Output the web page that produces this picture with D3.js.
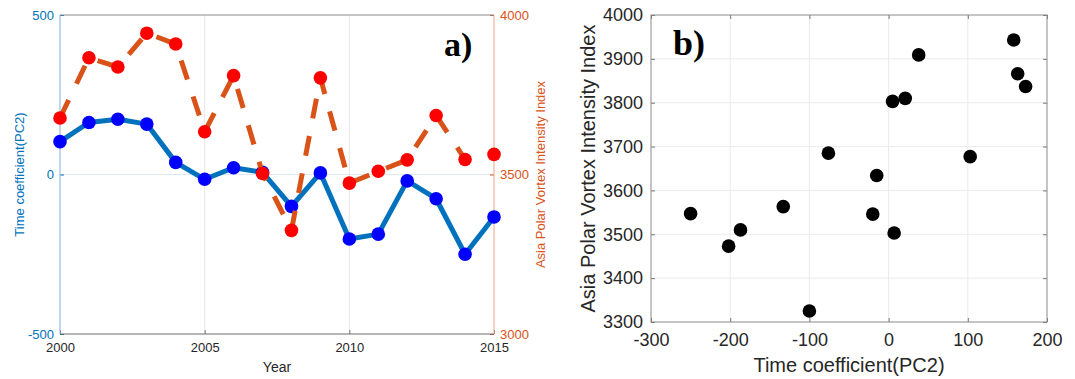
<!DOCTYPE html>
<html>
<head>
<meta charset="utf-8">
<script src="https://cdn.jsdelivr.net/npm/d3@7"></script>
<style>
  body { margin: 0; background: #fff; }
  text { font-family: "Liberation Sans", Arial, sans-serif; }
</style>
</head>
<body>
<svg id="chart" width="1075" height="379"></svg>
<script>
// data
const years = [2000, 2001, 2002, 2003, 2004, 2005, 2006, 2007, 2008, 2009, 2010, 2011, 2012, 2013, 2014, 2015];
const pc2 = [103, 163, 173, 158, 38, -15, 21, 7, -100, 5, -202, -187, -20, -76, -250, -133];
const apvi = [3677, 3866, 3837, 3943, 3909, 3634, 3810, 3503, 3325, 3803, 3473, 3510, 3546, 3685, 3547, 3563];

const yearTicks = [2000, 2005, 2010, 2015];
const pcTicks = [-500, 0, 500];
const apviTicksA = [3000, 3500, 4000];
const scatterXTicks = [-300, -200, -100, 0, 100, 200];
const scatterYTicks = [3300, 3400, 3500, 3600, 3700, 3800, 3900, 4000];

const blue = "#0072BD", orange = "#D95319", ink = "#262626";
const plain = d => String(d); // keep hyphen minus, no thousands comma

const svg = d3.select("#chart");
svg.append("rect").attr("width", 1075).attr("height", 379).attr("fill", "#fff");

//----- panel a : time series, two y axes
const a = { left: 60, right: 494, top: 15, bottom: 334 };

const xA = d3.scaleLinear().domain([2000, 2015]).range([a.left, a.right]);
const yL = d3.scaleLinear().domain([-500, 500]).range([a.bottom, a.top]);
const yR = d3.scaleLinear().domain([3000, 4000]).range([a.bottom, a.top]);

const pa = svg.append("g");

// grid
pa.append("g").selectAll("line").data([2005, 2010]).enter().append("line")
    .attr("x1", d => xA(d)).attr("x2", d => xA(d))
    .attr("y1", a.top).attr("y2", a.bottom)
    .attr("stroke", "#e6e6e6").attr("stroke-width", 1);
pa.append("line")
    .attr("x1", a.left).attr("x2", a.right)
    .attr("y1", yL(0)).attr("y2", yL(0))
    .attr("stroke", "#dce9f5").attr("stroke-width", 1);

// axes
const axA = pa.append("g").attr("transform", `translate(0,${a.bottom})`)
    .call(d3.axisBottom(xA).tickValues(yearTicks).tickFormat(plain).tickSize(-4).tickPadding(9));
axA.selectAll("text").attr("font-size", 13).attr("fill", ink);
axA.selectAll("line").attr("stroke", "#777");

const axL = pa.append("g").attr("transform", `translate(${a.left},0)`)
    .call(d3.axisLeft(yL).tickValues(pcTicks).tickFormat(plain).tickSize(-4).tickPadding(6));
axL.selectAll("text").attr("font-size", 13).attr("fill", blue);
axL.selectAll("line").attr("stroke", blue);

const axR = pa.append("g").attr("transform", `translate(${a.right},0)`)
    .call(d3.axisRight(yR).tickValues(apviTicksA).tickFormat(plain).tickSize(-4).tickPadding(6));
axR.selectAll("text").attr("font-size", 13).attr("fill", orange);
axR.selectAll("line").attr("stroke", orange);

[axA, axL, axR].forEach(g => g.select(".domain").remove());

// box
pa.append("line").attr("x1", a.left).attr("x2", a.right).attr("y1", a.top).attr("y2", a.top)
    .attr("stroke", "#8a8a8a");
pa.append("line").attr("x1", a.left).attr("x2", a.right).attr("y1", a.bottom).attr("y2", a.bottom)
    .attr("stroke", "#6f6f6f");
pa.append("line").attr("x1", a.left).attr("x2", a.left).attr("y1", a.top).attr("y2", a.bottom)
    .attr("stroke", "#7fb3dd");
pa.append("line").attr("x1", a.right).attr("x2", a.right).attr("y1", a.top).attr("y2", a.bottom)
    .attr("stroke", "#e9a483");

// blue series
const lineL = d3.line().x((d, i) => xA(years[i])).y(d => yL(d));
pa.append("path").datum(pc2)
    .attr("d", lineL).attr("fill", "none")
    .attr("stroke", blue).attr("stroke-width", 5).attr("stroke-linejoin", "round");
pa.append("g").selectAll("circle").data(pc2).enter().append("circle")
    .attr("cx", (d, i) => xA(years[i])).attr("cy", d => yL(d))
    .attr("r", 6.8).attr("fill", "#0000ff");

// orange dashed series
const lineR = d3.line().x((d, i) => xA(years[i])).y(d => yR(d));
pa.append("path").datum(apvi)
    .attr("d", lineR).attr("fill", "none")
    .attr("stroke", orange).attr("stroke-width", 5)
    .attr("stroke-dasharray", "20,18");
pa.append("g").selectAll("circle").data(apvi).enter().append("circle")
    .attr("cx", (d, i) => xA(years[i])).attr("cy", d => yR(d))
    .attr("r", 6.8).attr("fill", "#ff0000");

// labels
pa.append("text").attr("x", 277).attr("y", 372).attr("text-anchor", "middle")
    .attr("font-size", 14).attr("fill", ink).text("Year");
pa.append("text").attr("transform", "translate(24,174.5) rotate(-90)")
    .attr("text-anchor", "middle").attr("font-size", 13).attr("fill", blue)
    .text("Time coefficient(PC2)");
pa.append("text").attr("transform", "translate(545,174.5) rotate(-90)")
    .attr("text-anchor", "middle").attr("font-size", 13).attr("fill", orange)
    .text("Asia Polar Vortex Intensity Index");
pa.append("text").attr("x", 444).attr("y", 56)
    .style("font-family", "'Liberation Serif', serif")
    .attr("font-weight", "bold").attr("font-size", 34).attr("fill", "#000")
    .text("a)");

//----- panel b : scatter
const b = { left: 651, right: 1047, top: 15, bottom: 322 };

const xB = d3.scaleLinear().domain([-300, 200]).range([b.left, b.right]);
const yB = d3.scaleLinear().domain([3300, 4000]).range([b.bottom, b.top]);

const pb = svg.append("g");

// grid
pb.append("g").selectAll("line").data(scatterXTicks.slice(1, -1)).enter().append("line")
    .attr("x1", d => xB(d)).attr("x2", d => xB(d))
    .attr("y1", b.top).attr("y2", b.bottom)
    .attr("stroke", "#ebebeb");
pb.append("g").selectAll("line").data(scatterYTicks.slice(1, -1)).enter().append("line")
    .attr("x1", b.left).attr("x2", b.right)
    .attr("y1", d => yB(d)).attr("y2", d => yB(d))
    .attr("stroke", "#ebebeb");

const axBx = pb.append("g").attr("transform", `translate(0,${b.bottom})`)
    .call(d3.axisBottom(xB).tickValues(scatterXTicks).tickFormat(plain).tickSize(-4).tickPadding(11));
const axBy = pb.append("g").attr("transform", `translate(${b.left},0)`)
    .call(d3.axisLeft(yB).tickValues(scatterYTicks).tickFormat(plain).tickSize(-4).tickPadding(8));
const axBt = pb.append("g").attr("transform", `translate(0,${b.top})`)
    .call(d3.axisTop(xB).tickValues(scatterXTicks).tickSize(-4).tickFormat(""));
const axBr = pb.append("g").attr("transform", `translate(${b.right},0)`)
    .call(d3.axisRight(yB).tickValues(scatterYTicks).tickSize(-4).tickFormat(""));
[axBx, axBy, axBt, axBr].forEach(g => {
    g.select(".domain").remove();
    g.selectAll("line").attr("stroke", "#777");
    g.selectAll("text").attr("font-size", 18).attr("fill", ink);
});

pb.append("rect")
    .attr("x", b.left).attr("y", b.top)
    .attr("width", b.right - b.left).attr("height", b.bottom - b.top)
    .attr("fill", "none").attr("stroke", "#8a8a8a");

pb.append("g").selectAll("circle").data(pc2).enter().append("circle")
    .attr("cx", d => xB(d)).attr("cy", (d, i) => yB(apvi[i]))
    .attr("r", 6.8).attr("fill", "#000");

pb.append("text").attr("x", (b.left + b.right) / 2).attr("y", 372)
    .attr("text-anchor", "middle").attr("font-size", 20).attr("fill", ink)
    .text("Time coefficient(PC2)");
pb.append("text").attr("transform", `translate(595,${(b.top + b.bottom) / 2}) rotate(-90)`)
    .attr("text-anchor", "middle").attr("font-size", 20).attr("fill", ink)
    .text("Asia Polar Vortex Intensity Index");
pb.append("text").attr("x", 673).attr("y", 55)
    .style("font-family", "'Liberation Serif', serif")
    .attr("font-weight", "bold").attr("font-size", 36).attr("fill", "#000")
    .text("b)");
</script>
</body>
</html>
